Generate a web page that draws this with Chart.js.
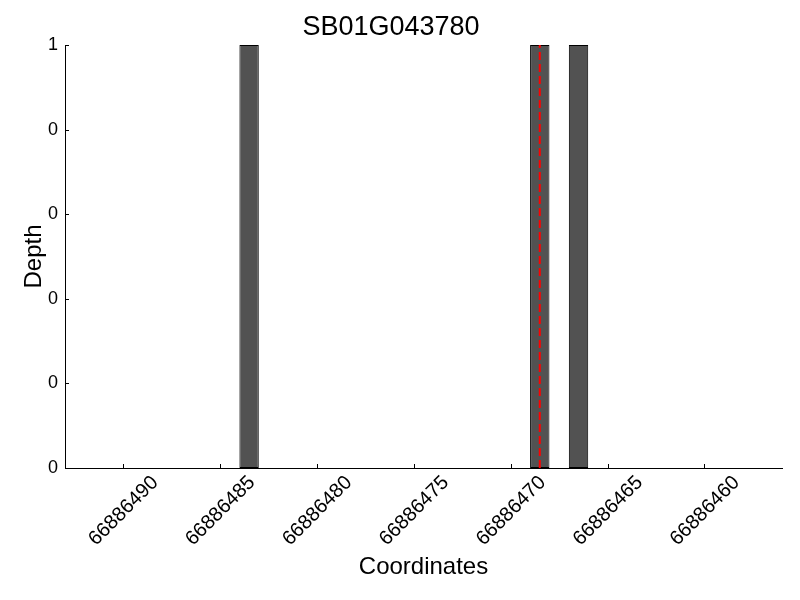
<!DOCTYPE html>
<html>
<head>
<meta charset="utf-8">
<script src="https://cdn.jsdelivr.net/npm/chart.js@4"></script>
<style>
  html, body { margin: 0; padding: 0; background: #fff; }
  #wrap { width: 800px; height: 600px; }
</style>
</head>
<body>
<div id="wrap"><canvas id="depth" width="800" height="600"></canvas></div>
<script>
const gene = "SB01G043780";
const coords = [66886483.5, 66886468.5, 66886466.5];   // bar centres
const depth = [1, 1, 1];
const snpPos = 66886468.5;                              // red dashed marker
const xTicks = [66886490, 66886485, 66886480, 66886475, 66886470, 66886465, 66886460];
const yTicks = [0, 0.2, 0.4, 0.6, 0.8, 1];
const xMin = 66886456, xMax = 66886493;

const FONT = "'Liberation Sans', Arial, sans-serif";

// matplotlib-style ticks pointing into the plot
const inwardTicks = {
  id: "inwardTicks",
  afterDatasetsDraw(chart) {
    const { ctx, chartArea: a, scales: { x, y } } = chart;
    ctx.save();
    ctx.strokeStyle = "#000";
    ctx.lineWidth = 1;
    ctx.beginPath();
    x.ticks.forEach(t => {
      const px = Math.round(x.getPixelForValue(t.value)) + 0.5;
      ctx.moveTo(px, a.bottom);
      ctx.lineTo(px, a.bottom - 4);
    });
    y.ticks.forEach(t => {
      const py = Math.round(y.getPixelForValue(t.value)) + 0.5;
      ctx.moveTo(a.left, py);
      ctx.lineTo(a.left + 4, py);
    });
    ctx.stroke();
    ctx.restore();
  }
};

new Chart(document.getElementById("depth"), {
  type: "bar",
  data: {
    datasets: [
      {
        type: "line",
        data: [{ x: snpPos, y: 0 }, { x: snpPos, y: 1 }],
        borderColor: "#ff0000",
        borderWidth: 2,
        borderDash: [8, 4],
        pointRadius: 0,
        fill: false
      },
      {
        data: coords.map((c, i) => ({ x: c, y: depth[i] })),
        backgroundColor: "#525252",
        borderColor: "#000000",
        borderWidth: 1,
        borderSkipped: false,
        categoryPercentage: 1,
        barPercentage: 0.5
      }
    ]
  },
  options: {
    responsive: false,
    animation: false,
    layout: { padding: { left: 0, right: 18, top: 0, bottom: 0 } },
    plugins: {
      legend: { display: false },
      tooltip: { enabled: false },
      title: {
        display: true,
        text: gene,
        color: "#000",
        font: { family: FONT, size: 27, weight: "normal" },
        padding: { top: 11, bottom: 1.6 }
      }
    },
    scales: {
      x: {
        type: "linear",
        reverse: true,
        offset: false,
        min: xMin,
        max: xMax,
        afterBuildTicks: s => { s.ticks = xTicks.map(v => ({ value: v })); },
        afterFit: s => { s.height = 132; },
        grid: { display: false, drawTicks: false, offset: false },
        border: { display: true, color: "#000", width: 1 },
        ticks: {
          color: "#000",
          font: { family: FONT, size: 20 },
          minRotation: 45,
          maxRotation: 45,
          padding: 3,
          labelOffset: 32,
          autoSkip: false,
          callback: v => String(v)
        },
        title: {
          display: true,
          text: "Coordinates",
          color: "#000",
          font: { family: FONT, size: 24 },
          padding: { top: 0, bottom: 18 }
        }
      },
      y: {
        min: 0,
        max: 1,
        afterBuildTicks: s => { s.ticks = yTicks.map(v => ({ value: v })); },
        afterFit: s => { s.width = 65; },
        grid: { display: false, drawTicks: false },
        border: { display: true, color: "#000", width: 1 },
        ticks: {
          color: "#000",
          font: { family: FONT, size: 18 },
          padding: 7,
          callback: v => String(Math.floor(v))
        },
        title: {
          display: true,
          text: "Depth",
          color: "#000",
          font: { family: FONT, size: 24 },
          padding: { top: 20, bottom: 0 }
        }
      }
    }
  },
  plugins: [inwardTicks]
});
</script>
</body>
</html>
